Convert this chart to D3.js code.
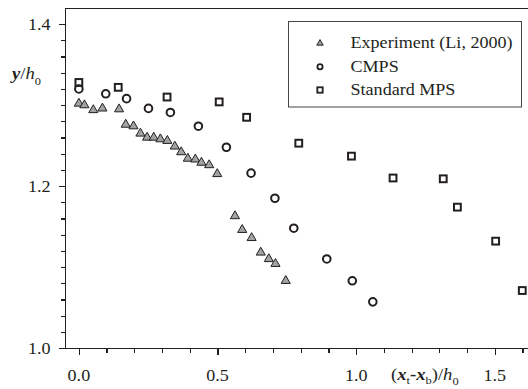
<!DOCTYPE html>
<html>
<head>
<meta charset="utf-8">
<script src="https://cdn.jsdelivr.net/npm/d3@7/dist/d3.min.js"></script>
<style>
  html, body { margin: 0; padding: 0; background: #fff; }
  svg { display: block; }
  text { font-family: "Liberation Serif", "Times New Roman", serif; fill: #231f20; }
</style>
</head>
<body>
<svg id="chart" width="528" height="389"></svg>
<script>
// Dam-break surge front: free-surface height vs. front distance
const expX  = [0.000, 0.020, 0.052, 0.085, 0.145, 0.169, 0.197, 0.222, 0.246, 0.270, 0.294, 0.319, 0.346,
               0.369, 0.393, 0.420, 0.442, 0.470, 0.499, 0.563, 0.589, 0.623, 0.656, 0.685, 0.709, 0.746];
const expY  = [1.302, 1.300, 1.294, 1.296, 1.295, 1.276, 1.274, 1.265, 1.260, 1.260, 1.258, 1.256, 1.249,
               1.242, 1.234, 1.233, 1.229, 1.226, 1.215, 1.163, 1.146, 1.136, 1.118, 1.110, 1.104, 1.083];

const cmpsX = [0.000, 0.097, 0.172, 0.251, 0.330, 0.431, 0.532, 0.621, 0.707, 0.775, 0.894, 0.986, 1.060];
const cmpsY = [1.320, 1.314, 1.308, 1.296, 1.291, 1.274, 1.248, 1.216, 1.185, 1.148, 1.110, 1.083, 1.057];

const mpsX  = [0.000, 0.142, 0.318, 0.506, 0.605, 0.793, 0.983, 1.133, 1.314, 1.365, 1.503, 1.599];
const mpsY  = [1.328, 1.322, 1.310, 1.304, 1.285, 1.253, 1.237, 1.210, 1.209, 1.174, 1.132, 1.071];

const xMajor = [0.0, 0.5, 1.0, 1.5];
const xTickLabels = ["0.0", "0.5", "1.0", "1.5"];
const yMajor = [1.0, 1.2, 1.4];
const yTickLabels = ["1.0", "1.2", "1.4"];
const legendLabels = ["Experiment (Li, 2000)", "CMPS", "Standard MPS"];

const ink = "#231f20";
const stretch = 1.13;   // slightly wide serif lettering
const svg = d3.select("#chart");

const x = d3.scaleLinear().domain([-0.05, 1.62]).range([65, 528.1]);
const y = d3.scaleLinear().domain([1.0, 1.42]).range([348, 8]);

// frame: top edge
svg.append("line")
  .attr("x1", 65).attr("x2", 528).attr("y1", 8.5).attr("y2", 8.5)
  .attr("stroke", ink).attr("stroke-width", 1);

// draws one set of ticks through a d3 axis, without its domain path
function ticks(axis, tx, ty) {
  const g = svg.append("g")
    .attr("transform", `translate(${tx},${ty})`)
    .call(axis);
  g.select(".domain").remove();
  g.selectAll(".tick text").remove();
  g.selectAll(".tick line")
    .attr("stroke", ink)
    .attr("stroke-width", 1.2)
    .attr("shape-rendering", "crispEdges");
  return g;
}

// x axis: minor ticks every 0.1, major every 0.5
const xMinor = d3.range(0, 17).map(i => i / 10).filter(v => !xMajor.includes(v));
ticks(d3.axisBottom(x).tickValues(xMinor).tickSize(4).tickSizeOuter(0), 0, 349);
ticks(d3.axisBottom(x).tickValues(xMajor).tickSize(6).tickSizeOuter(0), 0, 349);
svg.append("line")
  .attr("x1", 59).attr("x2", 528).attr("y1", 348.5).attr("y2", 348.5)
  .attr("stroke", ink).attr("stroke-width", 1);

// y axis: minor ticks every 0.02, major every 0.2
const yMinor = d3.range(1, 21).map(i => 1 + i * 0.02)
  .filter(v => Math.abs((v - 1) / 0.2 - Math.round((v - 1) / 0.2)) > 1e-6);
ticks(d3.axisLeft(y).tickValues(yMinor).tickSize(4).tickSizeOuter(0), 65, 0);
ticks(d3.axisLeft(y).tickValues(yMajor).tickSize(6).tickSizeOuter(0), 65, 0);
svg.append("line")
  .attr("x1", 65.5).attr("x2", 65.5).attr("y1", 8).attr("y2", 349)
  .attr("stroke", ink).attr("stroke-width", 1);

// tick labels
function label(parent, px, py, anchor, size) {
  return parent.append("text")
    .attr("transform", `translate(${px},${py}) scale(${stretch},1)`)
    .attr("text-anchor", anchor)
    .style("font-size", size + "px");
}
xMajor.forEach((v, i) => {
  label(svg, x(v), 381, "middle", 16).text(xTickLabels[i]);
});
yMajor.forEach((v, i) => {
  label(svg, 50.5, y(v) + 5.5, "end", 16).text(yTickLabels[i]);
});

// y axis title: y/h0
const yt = label(svg, 12, 78.5, "start", 16.5);
yt.append("tspan").style("font-weight", "bold").style("font-style", "italic").text("y");
yt.append("tspan").text("/");
yt.append("tspan").style("font-style", "italic").text("h");
yt.append("tspan").attr("dy", 6).style("font-size", "11px").text("0");

// x axis title: (xt-xb)/h0
const xt = label(svg, 391, 380, "start", 16.5);
xt.append("tspan").text("(");
xt.append("tspan").style("font-weight", "bold").style("font-style", "italic").text("x");
xt.append("tspan").attr("dy", 4).style("font-size", "11px").text("t");
xt.append("tspan").attr("dy", -4).style("font-weight", "bold").text("-");
xt.append("tspan").style("font-weight", "bold").style("font-style", "italic").text("x");
xt.append("tspan").attr("dy", 4).style("font-size", "11px").text("b");
xt.append("tspan").attr("dy", -4).text(")/");
xt.append("tspan").style("font-style", "italic").text("h");
xt.append("tspan").attr("dy", 5).style("font-size", "11px").text("0");

// markers
const tri = d3.symbol().type(d3.symbolTriangle);
const plot = svg.append("g");

plot.selectAll("path.exp")
  .data(d3.zip(expX, expY))
  .join("path")
  .attr("class", "exp")
  .attr("d", tri.size(36)())
  .attr("transform", d => `translate(${x(d[0])},${y(d[1])})`)
  .attr("fill", "#a3a3a3")
  .attr("stroke", ink)
  .attr("stroke-width", 1);

plot.selectAll("circle.cmps")
  .data(d3.zip(cmpsX, cmpsY))
  .join("circle")
  .attr("class", "cmps")
  .attr("cx", d => x(d[0]))
  .attr("cy", d => y(d[1]))
  .attr("r", 3.8)
  .attr("fill", "none")
  .attr("stroke", ink)
  .attr("stroke-width", 2);

plot.selectAll("rect.mps")
  .data(d3.zip(mpsX, mpsY))
  .join("rect")
  .attr("class", "mps")
  .attr("x", d => x(d[0]) - 3.4)
  .attr("y", d => y(d[1]) - 3.4)
  .attr("width", 6.8)
  .attr("height", 6.8)
  .attr("fill", "none")
  .attr("stroke", ink)
  .attr("stroke-width", 2);

// legend
const lg = svg.append("g");
lg.append("rect")
  .attr("x", 288.5).attr("y", 21.5).attr("width", 233).attr("height", 85.5)
  .attr("fill", "#fff").attr("stroke", "#444").attr("stroke-width", 1);
const rows = [43.3, 66.7, 90];
lg.append("path")
  .attr("d", d3.symbol().type(d3.symbolTriangle).size(18)())
  .attr("transform", `translate(320,${rows[0]})`)
  .attr("fill", "#a3a3a3").attr("stroke", ink).attr("stroke-width", 1);
lg.append("circle")
  .attr("cx", 320).attr("cy", rows[1]).attr("r", 2.6)
  .attr("fill", "none").attr("stroke", ink).attr("stroke-width", 1.8);
lg.append("rect")
  .attr("x", 317.3).attr("y", rows[2] - 2.7).attr("width", 5.4).attr("height", 5.4)
  .attr("fill", "none").attr("stroke", ink).attr("stroke-width", 1.8);
legendLabels.forEach((t, i) => {
  label(lg, 350.5, rows[i] + 5, "start", 16).text(t);
});
</script>
</body>
</html>
